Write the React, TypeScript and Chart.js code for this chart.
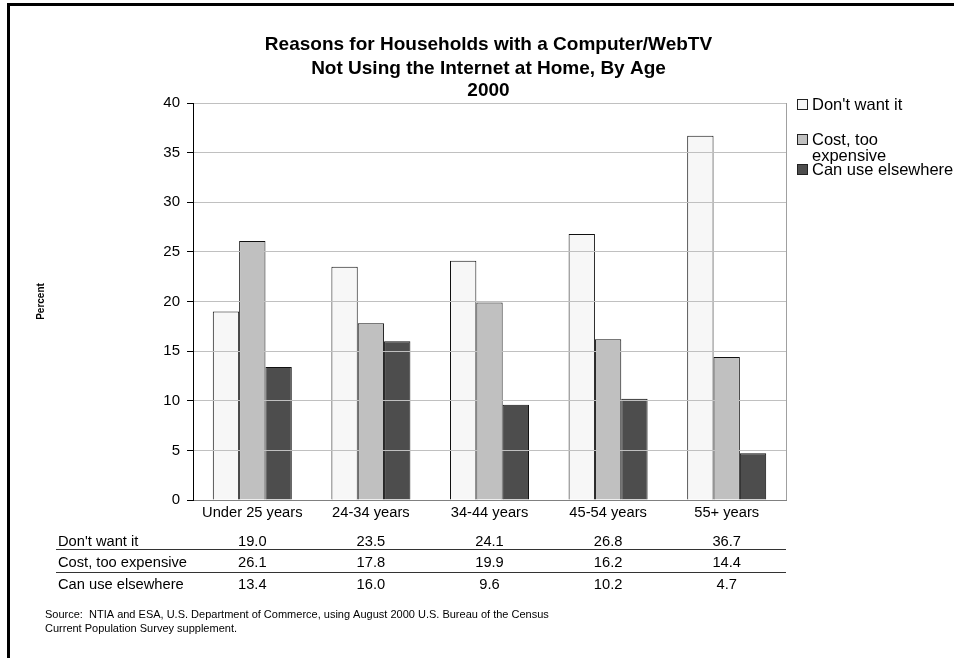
import React, { useEffect, useRef } from "react";
import { Chart, registerables } from "chart.js";

Chart.register(...registerables);

const categories = ["Under 25 years", "24-34 years", "34-44 years", "45-54 years", "55+ years"];
const seriesNames = ["Don't want it", "Cost, too expensive", "Can use elsewhere"];
const legendLines = [["Don't want it"], ["Cost, too", "expensive"], ["Can use elsewhere"]];
const dontWant = [19.0, 23.5, 24.1, 26.8, 36.7];
const costTooExpensive = [26.1, 17.8, 19.9, 16.2, 14.4];
const useElsewhere = [13.4, 16.0, 9.6, 10.2, 4.7];
const seriesColors = ["#f7f7f7", "#c0c0c0", "#4d4d4d"];
const titleLines = ["Reasons for Households with a Computer/WebTV", "Not Using the Internet at Home, By Age", "2000"];
const yTitle = "Percent";
const sourceLines = [
  "Source:  NTIA and ESA, U.S. Department of Commerce, using August 2000 U.S. Bureau of the Census",
  "Current Population Survey supplement.",
];

const FONT = "'Liberation Sans', Arial, Helvetica, sans-serif";

const extrasPlugin = {
  id: "extras",
  afterDraw(chart: any) {
    const ctx = chart.ctx as CanvasRenderingContext2D;
    const area = chart.chartArea;
    const xs = chart.scales.x;
    ctx.save();

    // plot right border
    ctx.strokeStyle = "#a0a0a0";
    ctx.lineWidth = 1;
    ctx.beginPath();
    ctx.moveTo(Math.round(area.right) + 0.5, area.top);
    ctx.lineTo(Math.round(area.right) + 0.5, area.bottom);
    ctx.stroke();

    // frame
    ctx.fillStyle = "#000";
    ctx.fillRect(7, 3, chart.width - 7, 3);
    ctx.fillRect(7, 3, 3, chart.height - 3);

    // title
    const cx = (area.left + area.right) / 2 - 1;
    ctx.fillStyle = "#000";
    ctx.font = `bold 19px ${FONT}`;
    ctx.textAlign = "center";
    ctx.textBaseline = "middle";
    const titleY = [45, 69, 91];
    titleLines.forEach((t, i) => ctx.fillText(t, cx, titleY[i]));

    // y title
    ctx.save();
    ctx.translate(41, (area.top + area.bottom) / 2);
    ctx.rotate(-Math.PI / 2);
    ctx.font = `bold 10px ${FONT}`;
    ctx.fillText(yTitle, 0, 0);
    ctx.restore();

    // legend
    ctx.font = `16.5px ${FONT}`;
    ctx.textAlign = "left";
    const legY = [105, 140, 170];
    legendLines.forEach((lines, i) => {
      ctx.fillStyle = seriesColors[i];
      ctx.fillRect(797.5, legY[i] - 5.5, 10, 10);
      ctx.strokeStyle = "#222";
      ctx.lineWidth = 1;
      ctx.strokeRect(797.5, legY[i] - 5.5, 10, 10);
      ctx.fillStyle = "#000";
      lines.forEach((l, j) => ctx.fillText(l, 812, legY[i] + j * 16));
    });

    // data table
    const rows = [dontWant, costTooExpensive, useElsewhere];
    const rowY = [542, 563, 585];
    ctx.font = `14.7px ${FONT}`;
    rows.forEach((vals, r) => {
      ctx.textAlign = "left";
      ctx.fillStyle = "#000";
      ctx.fillText(seriesNames[r], 58, rowY[r]);
      ctx.textAlign = "center";
      vals.forEach((v, i) => ctx.fillText(v.toFixed(1), xs.getPixelForValue(i), rowY[r]));
    });
    ctx.strokeStyle = "#333";
    ctx.lineWidth = 1;
    [549.5, 572.5].forEach((y) => {
      ctx.beginPath();
      ctx.moveTo(56, y);
      ctx.lineTo(area.right, y);
      ctx.stroke();
    });

    // source
    ctx.font = `11px ${FONT}`;
    ctx.textAlign = "left";
    ctx.fillStyle = "#000";
    sourceLines.forEach((s, i) => ctx.fillText(s, 45, 615 + i * 14));

    ctx.restore();
  },
};

export default function App() {
  const ref = useRef<HTMLCanvasElement | null>(null);
  useEffect(() => {
    document.body.style.margin = "0";
    if (!ref.current) return;
    Chart.defaults.font.family = FONT;
    const chart = new Chart(ref.current, {
      type: "bar",
      data: {
        labels: categories,
        datasets: [dontWant, costTooExpensive, useElsewhere].map((d, i) => ({
          label: seriesNames[i],
          data: d,
          backgroundColor: seriesColors[i],
          borderColor: "#111",
          borderWidth: 1,
          categoryPercentage: 0.666,
          barPercentage: 1,
        })),
      },
      options: {
        responsive: false,
        animation: false,
        devicePixelRatio: 1,
        layout: { padding: { left: 133, right: 168, top: 103, bottom: 128 } },
        plugins: { legend: { display: false }, title: { display: false }, tooltip: { enabled: false } },
        scales: {
          x: {
            afterFit: (s: any) => { s.height = 30; },
            grid: { display: false, drawTicks: false },
            border: { display: true, color: "#808080", width: 1, z: 2 },
            ticks: { color: "#000", font: { size: 14.7 }, padding: 4, maxRotation: 0, autoSkip: false },
          },
          y: {
            min: 0,
            max: 40,
            afterFit: (s: any) => { s.width = 60; },
            grid: { color: "#c0c0c0", tickColor: "#000", tickLength: 6, z: 1 },
            border: { display: true, color: "#000", width: 1, z: 2 },
            ticks: { stepSize: 5, color: "#000", font: { size: 15 }, padding: 7 },
          },
        },
      },
      plugins: [extrasPlugin],
    });
    return () => chart.destroy();
  }, []);
  return <canvas ref={ref} width={954} height={658} style={{ display: "block", width: 954, height: 658 }} />;
}
